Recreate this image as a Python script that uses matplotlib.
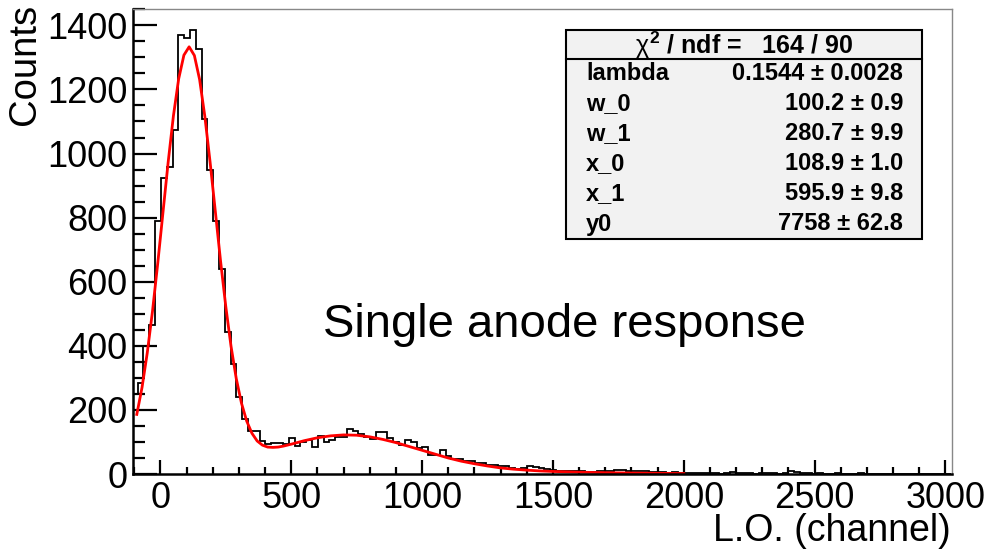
import numpy as np
import matplotlib
matplotlib.use('Agg')
import matplotlib.pyplot as plt
from matplotlib.patches import Rectangle
from matplotlib.ticker import MultipleLocator

W, H = 995, 550

# histogram
bin_lo = -108.9
bin_width = 22.2
counts = [250, 284, 399, 466, 788, 924, 959, 1072, 1370, 1359,
          1386, 1326, 1109, 949, 788, 641, 443, 343, 241, 172,
          134, 134, 104, 94, 96, 98, 94, 113, 88, 100,
          106, 85, 120, 101, 106, 117, 117, 141, 133, 125,
          115, 109, 132, 130, 111, 99, 90, 105, 100, 80,
          85, 60, 60, 76, 55, 47, 47, 42, 42, 34,
          33, 29, 29, 24, 24, 18, 16, 20, 26, 21,
          19, 16, 12, 10, 10, 9, 10, 8, 7, 7,
          8, 10, 8, 14, 12, 10, 8, 10, 8, 6,
          5, 5, 4, 5, 3, 3, 2,
          3, 2, 4, 2, 1, 3, 5, 4, 2, 2, 1, 3, 2, 2, 1, 2, 10, 6, 3, 2,
          1, 2, 1, 1, 2, 0, 1, 1, 2, 1, 0, 1, 1, 0, 1, 1, 0, 1, 0, 0,
          1, 0, 1, 0]

# fitted curve
fit_x = [-90, -70, -50, -30, -10, 10, 30, 50, 70, 90, 110, 130, 150, 170,
         190, 210, 230, 250, 270, 290, 310, 330, 350, 370, 390, 410, 430,
         450, 470, 500, 550, 600, 650, 700, 750, 800, 850, 900, 950, 1000,
         1050, 1100, 1150, 1200, 1250, 1300, 1350, 1400, 1450, 1500, 1600,
         1700, 1800, 1900, 2000]
fit_y = [186, 270, 378, 508, 657, 816, 974, 1118, 1233, 1307, 1333, 1306,
         1231, 1116, 974, 820, 665, 523, 399, 298, 221, 165, 127, 103, 90,
         84, 83, 84, 87, 93, 104, 113, 119, 122, 121, 116, 108, 98, 86, 74,
         62, 50, 40, 32, 25, 19, 15, 12, 9.6, 8, 5.6, 4.1, 3.0, 2.1, 1.4]

par_names = ['lambda', 'w_0', 'w_1', 'x_0', 'x_1', 'y0']
par_values = ['0.1544', '100.2', '280.7', '108.9', '595.9', '7758']
par_errors = ['0.0028', '0.9', '9.9', '1.0', '9.8', '62.8']
chi2, ndf = 164, 90

FONT = 'Liberation Sans'


def fx(px):
    return px / W


def fy(py):
    return 1 - py / H


def draw_stats(fig):
    left, right, top, bottom, head = 566, 922, 30, 239, 59
    fig.add_artist(Rectangle((fx(left), fy(bottom)), fx(right) - fx(left), fy(top) - fy(bottom),
                             transform=fig.transFigure, facecolor='#f2f2f2',
                             edgecolor='black', lw=1.5, zorder=5))
    fig.add_artist(plt.Line2D([fx(left), fx(right)], [fy(head), fy(head)],
                              transform=fig.transFigure, color='black', lw=1.5, zorder=6))
    fig.text(fx((left + right) / 2), fy((top + head) / 2 + 1),
             f'$\\chi^{{\\mathbf{{2}}}}$ / ndf =   {chi2} / {ndf}',
             ha='center', va='center', fontsize=18, fontweight='bold', family=FONT, zorder=7)
    row_h = (bottom - head) / len(par_names)
    for i, name in enumerate(par_names):
        yc = fy(head + row_h * (i + 0.5))
        fig.text(fx(586), yc, name, ha='left', va='center', fontsize=17,
                 fontweight='bold', family=FONT, zorder=7)
        fig.text(fx(903), yc, f'{par_values[i]} \u00b1 {par_errors[i]}', ha='right', va='center',
                 fontsize=17, fontweight='bold', family=FONT, zorder=7)


def main():
    plt.rcParams['font.family'] = [FONT, 'DejaVu Sans']
    plt.rcParams['mathtext.fontset'] = 'custom'
    plt.rcParams['mathtext.rm'] = FONT
    plt.rcParams['mathtext.it'] = FONT
    plt.rcParams['mathtext.bf'] = FONT + ':bold'
    fig = plt.figure(figsize=(W / 100, H / 100), dpi=100)
    ax = fig.add_axes([fx(133), fy(474), fx(952) - fx(133), fy(9) - fy(474)])

    edges = bin_lo + bin_width * np.arange(len(counts) + 1)
    ax.stairs(counts, edges, color='black', lw=1.3)
    ax.plot(fit_x, fit_y, color='red', lw=2.0)

    ax.set_xlim(-104.5, 3025)
    ax.set_ylim(0, 1451)

    ax.xaxis.set_major_locator(MultipleLocator(500))
    ax.xaxis.set_minor_locator(MultipleLocator(100))
    ax.yaxis.set_major_locator(MultipleLocator(200))
    ax.yaxis.set_minor_locator(MultipleLocator(50))
    ax.tick_params(axis='both', which='both', direction='in', width=1.6,
                   labelsize=26, top=False, right=False)
    ax.tick_params(axis='x', which='major', length=10, pad=5)
    ax.tick_params(axis='x', which='minor', length=5)
    ax.tick_params(axis='y', which='major', length=17.5, pad=4)
    ax.tick_params(axis='y', which='minor', length=8.5)

    for side in ['left', 'bottom']:
        ax.spines[side].set_linewidth(1.8)
    for side in ['top', 'right']:
        ax.spines[side].set_color('#888888')
        ax.spines[side].set_linewidth(1.0)

    ax.text(0.527, 0.32, 'Single anode response', transform=ax.transAxes,
            ha='center', va='center', fontsize=34)

    fig.text(fx(25), fy(4), 'Counts', rotation=90, ha='center', va='top', fontsize=27.5)
    fig.text(fx(951), fy(541), 'L.O. (channel)', ha='right', va='baseline', fontsize=27)

    draw_stats(fig)

    fig.savefig('out.png', dpi=100)


if __name__ == '__main__':
    main()
